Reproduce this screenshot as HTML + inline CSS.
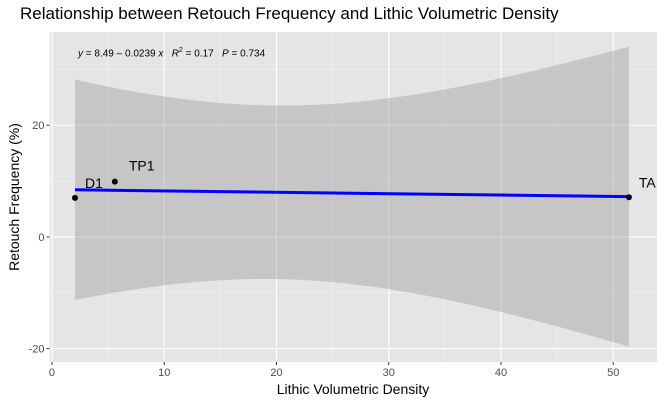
<!DOCTYPE html>
<html><head><meta charset="utf-8"><style>
body{margin:0;background:#fff;}
svg{display:block;font-family:"Liberation Sans",sans-serif;}
</style></head><body>
<svg id="chart" width="664" height="404"></svg>
<script>
const labels = ["D1","TP1","TA"];
const xVals = [2.05, 5.6, 51.4];
const yVals = [7.0, 9.9, 7.1];
const xTicks = [0,10,20,30,40,50];
const yTicks = [-20,0,20];

const NS="http://www.w3.org/2000/svg";
const svg=document.getElementById('chart');
const L=49.5,R=657,T=32,B=362;
const xMin=-0.22,xMax=53.9,yMin=-22.4,yMax=36.7;
const sx=v=>L+(v-xMin)/(xMax-xMin)*(R-L);
const sy=v=>B-(v-yMin)/(yMax-yMin)*(B-T);
function el(tag,attrs,parent){const e=document.createElementNS(NS,tag);for(const k in attrs)e.setAttribute(k,attrs[k]);(parent||svg).appendChild(e);return e;}

const panel=el('rect',{x:L,y:T,width:R-L,height:B-T,fill:'#e5e5e5'});


const clip=el('clipPath',{id:'clp'});el('rect',{x:L,y:T,width:R-L,height:B-T},clip);

for(let i=0;i<xTicks.length;i++){
  const m=xTicks[i]+5;
  if(m<xMax){const g=el('line',{x1:sx(m),x2:sx(m),y1:T,y2:B,stroke:'#f2f2f2','stroke-width':0.6});}
}
for(let i=0;i<yTicks.length;i++){
  const m=yTicks[i]+10;
  if(m<yMax){const g=el('line',{x1:L,x2:R,y1:sy(m),y2:sy(m),stroke:'#f2f2f2','stroke-width':0.6});}
}
xTicks.forEach(t=>{
  const g=el('line',{x1:sx(t),x2:sx(t),y1:T,y2:B,stroke:'#fff','stroke-width':1.1});
  
  const tk=el('line',{x1:sx(t),x2:sx(t),y1:B,y2:B+3,stroke:'#333','stroke-width':1});
  
  const tx=el('text',{x:sx(t),y:B+14,'text-anchor':'middle','font-size':11,fill:'#4d4d4d'});tx.textContent=t;
  
});
yTicks.forEach(t=>{
  const g=el('line',{x1:L,x2:R,y1:sy(t),y2:sy(t),stroke:'#fff','stroke-width':1.1});
  
  const tk=el('line',{x1:L-3,x2:L,y1:sy(t),y2:sy(t),stroke:'#333','stroke-width':1});
  
  const tx=el('text',{x:L-5,y:sy(t)+4,'text-anchor':'end','font-size':11,fill:'#4d4d4d'});tx.textContent=t;
  
});

const n=xVals.length;
const xbar=xVals.reduce((a,b)=>a+b,0)/n, ybar=yVals.reduce((a,b)=>a+b,0)/n;
let Sxx=0,Sxy=0;for(let i=0;i<n;i++){Sxx+=(xVals[i]-xbar)**2;Sxy+=(xVals[i]-xbar)*(yVals[i]-ybar);}
const b1=Sxy/Sxx,b0=ybar-b1*xbar;
let SSR=0;for(let i=0;i<n;i++)SSR+=(yVals[i]-b0-b1*xVals[i])**2;
const df=n-2;const s=Math.sqrt(SSR/Math.max(df,1));
const tq={1:12.706,2:4.303,3:3.182,4:2.776,5:2.571}[df]||2.0;
const x0=Math.min(...xVals),x1=Math.max(...xVals);
let up=[],lo=[];
for(let k=0;k<=80;k++){const x=x0+(x1-x0)*k/80;const f=b0+b1*x;const h=tq*s*Math.sqrt(1/n+(x-xbar)**2/Sxx);
  up.push(sx(x).toFixed(2)+','+sy(f+h).toFixed(2));lo.unshift(sx(x).toFixed(2)+','+sy(f-h).toFixed(2));}
const band=el('polygon',{points:up.concat(lo).join(' '),fill:'#999','fill-opacity':0.4,'clip-path':'url(#clp)'});

const line=el('line',{x1:sx(x0),y1:sy(b0+b1*x0),x2:sx(x1),y2:sy(b0+b1*x1),stroke:'#0000ff','stroke-width':3});


const off=[[10,-14],[14,-15],[10,-14]];
for(let i=0;i<n;i++){
  const p=el('circle',{cx:sx(xVals[i]),cy:sy(yVals[i]),r:3,fill:'#000'});
  
  const t=el('text',{x:sx(xVals[i])+off[i][0],y:sy(yVals[i])+off[i][1]+4,'font-size':14,fill:'#000'});t.textContent=labels[i];
  
}
</script>
<div style="position:absolute;left:0;top:0;width:664px;height:404px;pointer-events:none;font-family:'Liberation Sans',sans-serif;">
  <div style="position:absolute;left:20px;top:4px;font-size:17px;color:#000;">Relationship between Retouch Frequency and Lithic Volumetric Density</div>
  <div style="position:absolute;left:78px;top:47px;font-size:10px;color:#000;white-space:nowrap;"><i>y</i> = 8.49 – 0.0239 <i>x</i> &nbsp; <i>R</i><sup style="font-size:7px">2</sup> = 0.17 &nbsp; <i>P</i> = 0.734</div>
  <div style="position:absolute;left:353px;top:381px;transform:translateX(-50%);font-size:14px;white-space:nowrap;">Lithic Volumetric Density</div>
  <div style="position:absolute;left:14px;top:197px;transform:translate(-50%,-50%) rotate(-90deg);font-size:14px;white-space:nowrap;">Retouch Frequency (%)</div>
</div>
</body></html>
